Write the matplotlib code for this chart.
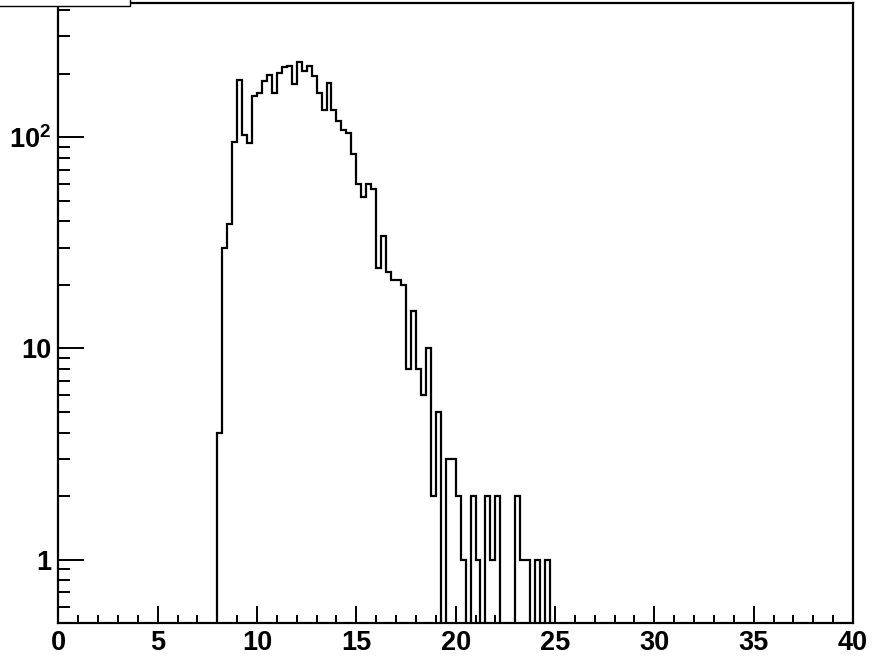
import numpy as np
import matplotlib
matplotlib.use('Agg')
import matplotlib.pyplot as plt
import matplotlib.ticker as mticker
from matplotlib.patches import Rectangle

plt.rcParams['font.family'] = ['Liberation Sans', 'DejaVu Sans']
plt.rcParams['mathtext.fontset'] = 'custom'
plt.rcParams['mathtext.rm'] = 'Liberation Sans:bold'
plt.rcParams['mathtext.bf'] = 'Liberation Sans:bold'

# histogram: 160 bins of 0.25 over 0..40, only 8.0..24.75 filled
x_min, x_max, n_bins = 0.0, 40.0, 160
first_bin = 8.0
counts_from_8 = [
    4, 30, 39, 95, 187, 102, 94, 156,        # 8.00 - 9.75
    162, 184, 197, 162, 201, 214, 217, 178,  # 10.00 - 11.75
    228, 205, 217, 194, 162, 135, 180, 135,  # 12.00 - 13.75
    119, 108, 105, 83, 60, 52, 60, 57,       # 14.00 - 15.75
    24, 34, 23, 21, 21, 20, 8, 15,           # 16.00 - 17.75
    8, 6, 10, 2, 5, 0, 3, 3,                 # 18.00 - 19.75
    2, 1, 0, 2, 1, 0, 2, 1,                  # 20.00 - 21.75
    2, 0, 0, 0, 2, 1, 1, 0,                  # 22.00 - 23.75
    1, 0, 1,                                 # 24.00 - 24.50
]

edges = np.linspace(x_min, x_max, n_bins + 1)
counts = np.zeros(n_bins)
i0 = int(round((first_bin - x_min) / (edges[1] - edges[0])))
counts[i0:i0 + len(counts_from_8)] = counts_from_8

y_min, y_max = 0.5, 432.0
y_ticks = [1, 10, 100]
y_labels = ['1', '10', '10$^{2}$']

fig = plt.figure(figsize=(8.73, 6.58), dpi=100)
ax = fig.add_axes([0.0668, 0.0527, 0.9771 - 0.0668, 0.9954 - 0.0527])

ax.stairs(counts, edges, color='black', linewidth=1.6, baseline=None)
ax.set_yscale('log', nonpositive='clip')
ax.set_xlim(x_min, x_max)
ax.set_ylim(y_min, y_max)

ax.xaxis.set_major_locator(mticker.MultipleLocator(5))
ax.xaxis.set_minor_locator(mticker.MultipleLocator(1))
ax.yaxis.set_major_locator(mticker.FixedLocator(y_ticks))
ax.yaxis.set_major_formatter(mticker.FixedFormatter(y_labels))
ax.yaxis.set_minor_locator(mticker.LogLocator(base=10, subs=np.arange(2, 10)))
ax.yaxis.set_minor_formatter(mticker.NullFormatter())

ax.tick_params(axis='both', which='both', direction='in', width=1.4,
               top=False, right=False, labelsize=19.5)
ax.tick_params(axis='x', which='major', length=12, pad=5)
ax.tick_params(axis='x', which='minor', length=6)
ax.tick_params(axis='y', which='major', length=18.5, pad=5)
ax.tick_params(axis='y', which='minor', length=8.8)
for lab in ax.get_xticklabels() + ax.get_yticklabels():
    lab.set_fontweight('bold')

for sp in ax.spines.values():
    sp.set_linewidth(1.6)

# title pave cut off at the top-left corner
fig.patches.append(Rectangle((-0.01, 1 - 6 / 658), 130 / 873 + 0.01, 0.05,
                             transform=fig.transFigure, facecolor='white',
                             edgecolor='black', linewidth=1.0, zorder=10))

fig.savefig('out.png', dpi=100)
